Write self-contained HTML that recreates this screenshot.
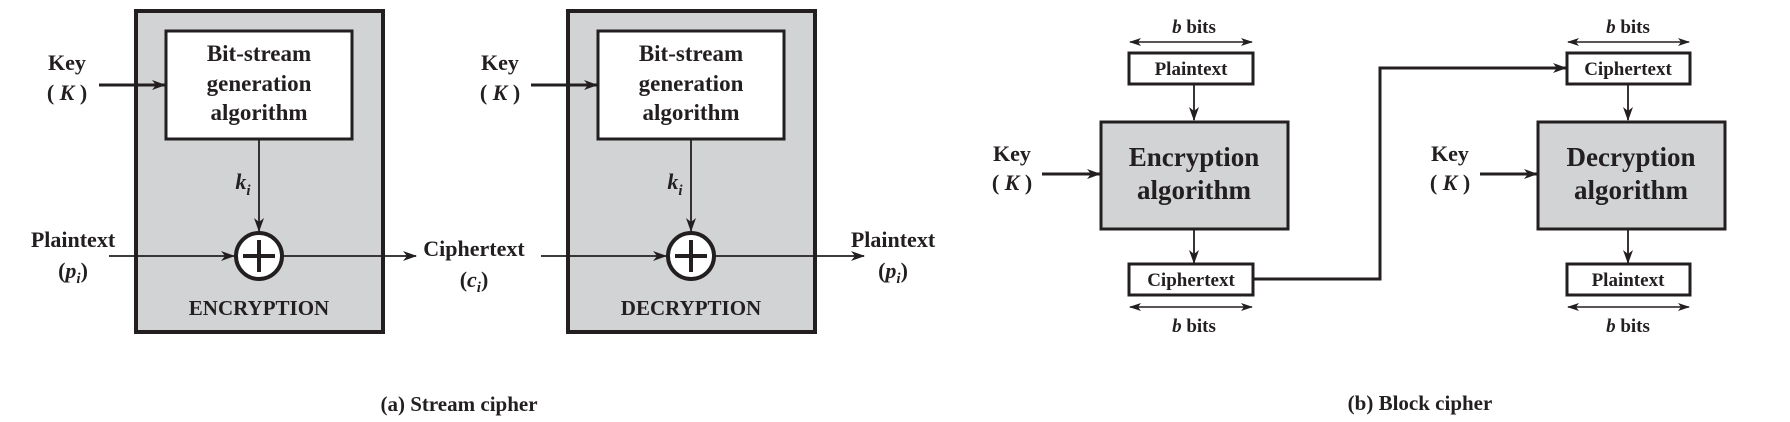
<!DOCTYPE html>
<html><head><meta charset="utf-8"><style>html,body{margin:0;padding:0;background:#fff}svg{display:block}text{font-family:"Liberation Serif",serif;font-weight:bold;fill:#231f20}</style></head>
<body>
<svg width="1790" height="422" viewBox="0 0 1790 422" xmlns="http://www.w3.org/2000/svg">
<defs>
<marker id="a" markerWidth="14" markerHeight="10" refX="13" refY="5" orient="auto" markerUnits="userSpaceOnUse"><path d="M0,0 L14,5 L0,10 L4,5 Z" fill="#231f20"/></marker>
<marker id="s" markerWidth="12" markerHeight="8" refX="11" refY="4" orient="auto-start-reverse" markerUnits="userSpaceOnUse"><path d="M0,0 L12,4 L0,8 L3,4 Z" fill="#231f20"/></marker>
</defs>
<g stroke="#231f20" fill="none">
<!-- stream enc -->
<rect x="136" y="11" width="247" height="321" fill="#d1d3d4" stroke-width="4"/>
<rect x="166" y="31" width="186" height="108" fill="#fff" stroke-width="3"/>
<rect x="568" y="11" width="247" height="321" fill="#d1d3d4" stroke-width="4"/>
<rect x="598" y="31" width="186" height="108" fill="#fff" stroke-width="3"/>
<line x1="99" y1="85" x2="165" y2="85" stroke-width="3" marker-end="url(#a)"/>
<line x1="531" y1="85" x2="597" y2="85" stroke-width="3" marker-end="url(#a)"/>
<line x1="259" y1="139" x2="259" y2="231" stroke-width="1.8" marker-end="url(#a)"/>
<line x1="691" y1="139" x2="691" y2="231" stroke-width="1.8" marker-end="url(#a)"/>
<line x1="109" y1="256" x2="234" y2="256" stroke-width="1.8" marker-end="url(#a)"/>
<line x1="283" y1="256" x2="416" y2="256" stroke-width="1.8" marker-end="url(#a)"/>
<line x1="541" y1="256" x2="666" y2="256" stroke-width="1.8" marker-end="url(#a)"/>
<line x1="715" y1="256" x2="864" y2="256" stroke-width="1.8" marker-end="url(#a)"/>
<circle cx="259" cy="256" r="23" fill="#fff" stroke-width="4"/>
<circle cx="691" cy="256" r="23" fill="#fff" stroke-width="4"/>
<path d="M259,240 V272 M243,256 H275 M691,240 V272 M675,256 H707" stroke-width="4"/>
<!-- block -->
<line x1="1130" y1="42" x2="1252" y2="42" stroke-width="1.5" marker-start="url(#s)" marker-end="url(#s)"/>
<line x1="1130" y1="307" x2="1252" y2="307" stroke-width="1.5" marker-start="url(#s)" marker-end="url(#s)"/>
<line x1="1568" y1="42" x2="1689" y2="42" stroke-width="1.5" marker-start="url(#s)" marker-end="url(#s)"/>
<line x1="1568" y1="307" x2="1689" y2="307" stroke-width="1.5" marker-start="url(#s)" marker-end="url(#s)"/>
<rect x="1129" y="53" width="124" height="31" fill="#fff" stroke-width="3"/>
<rect x="1129" y="264" width="124" height="31" fill="#fff" stroke-width="3"/>
<rect x="1567" y="53" width="123" height="31" fill="#fff" stroke-width="3"/>
<rect x="1567" y="264" width="123" height="31" fill="#fff" stroke-width="3"/>
<rect x="1101" y="122" width="187" height="107" fill="#d1d3d4" stroke-width="3"/>
<rect x="1538" y="122" width="187" height="107" fill="#d1d3d4" stroke-width="3"/>
<line x1="1194" y1="85" x2="1194" y2="120" stroke-width="1.8" marker-end="url(#a)"/>
<line x1="1194" y1="230" x2="1194" y2="263" stroke-width="1.8" marker-end="url(#a)"/>
<line x1="1628" y1="85" x2="1628" y2="120" stroke-width="1.8" marker-end="url(#a)"/>
<line x1="1628" y1="230" x2="1628" y2="263" stroke-width="1.8" marker-end="url(#a)"/>
<line x1="1042" y1="174" x2="1100" y2="174" stroke-width="3" marker-end="url(#a)"/>
<line x1="1480" y1="174" x2="1537" y2="174" stroke-width="3" marker-end="url(#a)"/>
<path d="M1253,279 H1380 V68 H1566" stroke-width="3" marker-end="url(#a)"/>
</g>
<g text-anchor="middle">
<text x="259" y="61" font-size="23">Bit-stream</text>
<text x="259" y="91" font-size="23">generation</text>
<text x="259" y="120" font-size="23">algorithm</text>
<text x="691" y="61" font-size="23">Bit-stream</text>
<text x="691" y="91" font-size="23">generation</text>
<text x="691" y="120" font-size="23">algorithm</text>
<text x="67" y="70" font-size="22">Key</text>
<text x="67" y="100" font-size="22">( <tspan font-style="italic">K</tspan> )</text>
<text x="500" y="70" font-size="22">Key</text>
<text x="500" y="100" font-size="22">( <tspan font-style="italic">K</tspan> )</text>
<text x="243" y="189" font-size="22" font-style="italic">k<tspan font-size="15" dy="6">i</tspan></text>
<text x="675" y="189" font-size="22" font-style="italic">k<tspan font-size="15" dy="6">i</tspan></text>
<text x="73" y="247" font-size="22">Plaintext</text>
<text x="73" y="278" font-size="22">(<tspan font-style="italic">p<tspan font-size="15" dy="5">i</tspan></tspan><tspan dy="-5">)</tspan></text>
<text x="474" y="256" font-size="22">Ciphertext</text>
<text x="474" y="287" font-size="22">(<tspan font-style="italic">c<tspan font-size="15" dy="5">i</tspan></tspan><tspan dy="-5">)</tspan></text>
<text x="893" y="247" font-size="22">Plaintext</text>
<text x="893" y="278" font-size="22">(<tspan font-style="italic">p<tspan font-size="15" dy="5">i</tspan></tspan><tspan dy="-5">)</tspan></text>
<text x="259" y="315" font-size="21">ENCRYPTION</text>
<text x="691" y="315" font-size="21">DECRYPTION</text>
<text x="459" y="411" font-size="21">(a) Stream cipher</text>
<text x="1194" y="33" font-size="19"><tspan font-style="italic">b</tspan> bits</text>
<text x="1194" y="332" font-size="19"><tspan font-style="italic">b</tspan> bits</text>
<text x="1628" y="33" font-size="19"><tspan font-style="italic">b</tspan> bits</text>
<text x="1628" y="332" font-size="19"><tspan font-style="italic">b</tspan> bits</text>
<text x="1191" y="75" font-size="19">Plaintext</text>
<text x="1191" y="286" font-size="19">Ciphertext</text>
<text x="1628" y="75" font-size="19">Ciphertext</text>
<text x="1628" y="286" font-size="19">Plaintext</text>
<text x="1194" y="166" font-size="27">Encryption</text>
<text x="1194" y="199" font-size="27">algorithm</text>
<text x="1631" y="166" font-size="27">Decryption</text>
<text x="1631" y="199" font-size="27">algorithm</text>
<text x="1012" y="161" font-size="22">Key</text>
<text x="1012" y="190" font-size="22">( <tspan font-style="italic">K</tspan> )</text>
<text x="1450" y="161" font-size="22">Key</text>
<text x="1450" y="190" font-size="22">( <tspan font-style="italic">K</tspan> )</text>
<text x="1420" y="410" font-size="21">(b) Block cipher</text>
</g>
</svg>
</body></html>
